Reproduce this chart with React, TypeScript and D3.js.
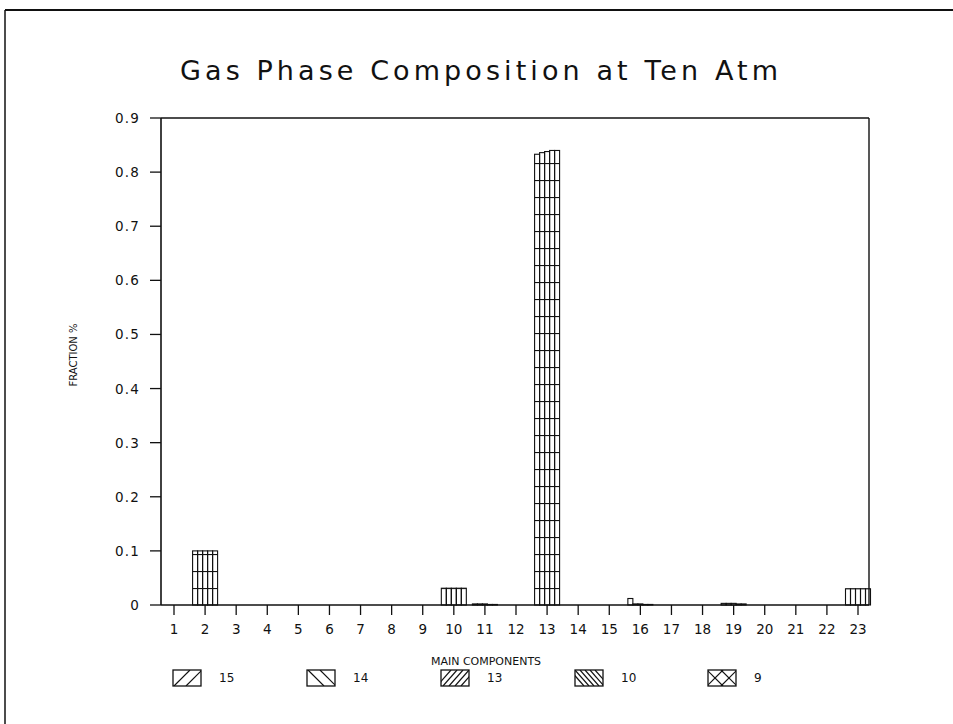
import React from "react";
import * as d3 from "d3";

// Component numbers along the x axis
const categories = [
  "1", "2", "3", "4", "5", "6", "7", "8", "9", "10", "11", "12",
  "13", "14", "15", "16", "17", "18", "19", "20", "21", "22", "23",
];

// One series per run; names shown in the legend
const seriesNames = ["15", "14", "13", "10", "9"];

// Gas-phase mole fraction of each component, per run
const run15 = [0, 0.1, 0, 0, 0, 0, 0, 0, 0, 0.031, 0.002, 0, 0.833, 0, 0, 0.012, 0, 0, 0.003, 0, 0, 0, 0.03];
const run14 = [0, 0.1, 0, 0, 0, 0, 0, 0, 0, 0.031, 0.002, 0, 0.836, 0, 0, 0.002, 0, 0, 0.003, 0, 0, 0, 0.03];
const run13 = [0, 0.1, 0, 0, 0, 0, 0, 0, 0, 0.031, 0.002, 0, 0.838, 0, 0, 0.002, 0, 0, 0.003, 0, 0, 0, 0.03];
const run10 = [0, 0.1, 0, 0, 0, 0, 0, 0, 0, 0.031, 0.001, 0, 0.840, 0, 0, 0.001, 0, 0, 0.002, 0, 0, 0, 0.03];
const run9 = [0, 0.1, 0, 0, 0, 0, 0, 0, 0, 0.031, 0.001, 0, 0.840, 0, 0, 0.001, 0, 0, 0.002, 0, 0, 0, 0.03];

const seriesValues = [run15, run14, run13, run10, run9];

const yTicks = [0, 0.1, 0.2, 0.3, 0.4, 0.5, 0.6, 0.7, 0.8, 0.9];
const yTickLabels = ["0", "0.1", "0.2", "0.3", "0.4", "0.5", "0.6", "0.7", "0.8", "0.9"];

const W = 953;
const H = 724;
const plotLeft = 161;
const plotRight = 869;
const plotTop = 118;
const plotBottom = 605;
const font = "'DejaVu Sans', sans-serif";

export default function App() {
  const y = d3.scaleLinear().domain([0, 0.9]).range([plotBottom, plotTop]);
  const x = d3.scalePoint<string>().domain(categories).range([174, 858]);
  const group = d3.scaleBand<string>().domain(seriesNames).range([-12.5, 12.5]);

  // legend hatch line sets, inside a 28x16 box
  const legendX = [173, 307, 441, 575, 708];
  const legendY = 670;
  const bw = 28;
  const bh = 16;
  const hatch = (k: number) => {
    const lines: [number, number, number, number][] = [];
    if (k === 0) {
      [9, 21].forEach((c) => lines.push([c - 8, bh, c + 8, 0]));
    } else if (k === 1) {
      [9, 21].forEach((c) => lines.push([c - 8, 0, c + 8, bh]));
    } else if (k === 2) {
      [3, 9, 15, 21, 27].forEach((c) => lines.push([c - 7, bh, c + 7, 0]));
    } else if (k === 3) {
      [2, 7, 12, 17, 22, 27].forEach((c) => lines.push([c - 7, 0, c + 7, bh]));
    } else {
      [7, 21].forEach((c) => {
        lines.push([c - 8, 0, c + 8, bh]);
        lines.push([c - 8, bh, c + 8, 0]);
      });
    }
    return lines;
  };

  return (
    <svg
      width={W}
      height={H}
      style={{ position: "absolute", left: 0, top: 0, background: "#fff" }}
    >
      <defs>
        <pattern id="barHatch" patternUnits="userSpaceOnUse" x={0} y={plotBottom} width={6} height={17}>
          <line x1={0} y1={0.5} x2={6} y2={0.5} stroke="#111" strokeWidth={1.2} />
        </pattern>
        <clipPath id="legClip">
          <rect x={0} y={0} width={bw} height={bh} />
        </clipPath>
      </defs>

      {/* page frame */}
      <line x1={5} y1={10} x2={W} y2={10} stroke="#111" strokeWidth={2} />
      <line x1={5} y1={10} x2={5} y2={H} stroke="#111" strokeWidth={1.5} />

      <text
        x={180}
        y={80}
        textLength={598}
        lengthAdjust="spacing"
        fontFamily={font}
        fontSize={27}
        fill="#111"
      >
        Gas Phase Composition at Ten Atm
      </text>

      {/* bars */}
      {seriesValues.map((vals, si) =>
        vals.map((v, ci) => {
          if (v <= 0) return null;
          const cx = (x(categories[ci]) as number) + (group(seriesNames[si]) as number);
          const top = y(v);
          return (
            <rect
              key={`${si}-${ci}`}
              x={cx}
              y={top}
              width={group.bandwidth()}
              height={plotBottom - top}
              fill="url(#barHatch)"
              stroke="#111"
              strokeWidth={1.1}
            />
          );
        })
      )}

      {/* plot frame */}
      <line x1={plotLeft} y1={plotTop} x2={plotRight} y2={plotTop} stroke="#111" strokeWidth={1.6} />
      <line x1={plotRight} y1={plotTop} x2={plotRight} y2={plotBottom} stroke="#111" strokeWidth={1.4} />
      <line x1={plotLeft} y1={plotTop} x2={plotLeft} y2={plotBottom} stroke="#111" strokeWidth={1.6} />
      <line x1={plotLeft} y1={plotBottom} x2={plotRight} y2={plotBottom} stroke="#111" strokeWidth={1.6} />

      {/* y axis */}
      {yTicks.map((t, i) => (
        <g key={`yt${i}`}>
          <line x1={150} y1={y(t)} x2={plotLeft} y2={y(t)} stroke="#111" strokeWidth={1.3} />
          <text
            x={140}
            y={y(t) + 5}
            textAnchor="end"
            fontFamily={font}
            fontSize={13.5}
            letterSpacing={1.2}
            fill="#111"
          >
            {yTickLabels[i]}
          </text>
        </g>
      ))}
      <text
        transform={`translate(77, 355) rotate(-90)`}
        textAnchor="middle"
        fontFamily={font}
        fontSize={10}
        fill="#111"
      >
        FRACTION %
      </text>

      {/* x axis */}
      {categories.map((c) => (
        <g key={`xt${c}`}>
          <line x1={x(c)} y1={plotBottom} x2={x(c)} y2={plotBottom + 10} stroke="#111" strokeWidth={1.3} />
          <text
            x={x(c)}
            y={plotBottom + 29}
            textAnchor="middle"
            fontFamily={font}
            fontSize={13.5}
            fill="#111"
          >
            {c}
          </text>
        </g>
      ))}
      <text x={486} y={665} textAnchor="middle" fontFamily={font} fontSize={11} fill="#111">
        MAIN COMPONENTS
      </text>

      {/* legend */}
      {seriesNames.map((name, k) => (
        <g key={`lg${name}`} transform={`translate(${legendX[k]}, ${legendY})`}>
          <rect x={0} y={0} width={bw} height={bh} fill="#fff" stroke="#111" strokeWidth={1.3} />
          <g clipPath="url(#legClip)">
            {hatch(k).map((l, j) => (
              <line key={j} x1={l[0]} y1={l[1]} x2={l[2]} y2={l[3]} stroke="#111" strokeWidth={1.2} />
            ))}
          </g>
          <text x={bw + 18} y={12} fontFamily={font} fontSize={12} fill="#111">
            {name}
          </text>
        </g>
      ))}
    </svg>
  );
}
